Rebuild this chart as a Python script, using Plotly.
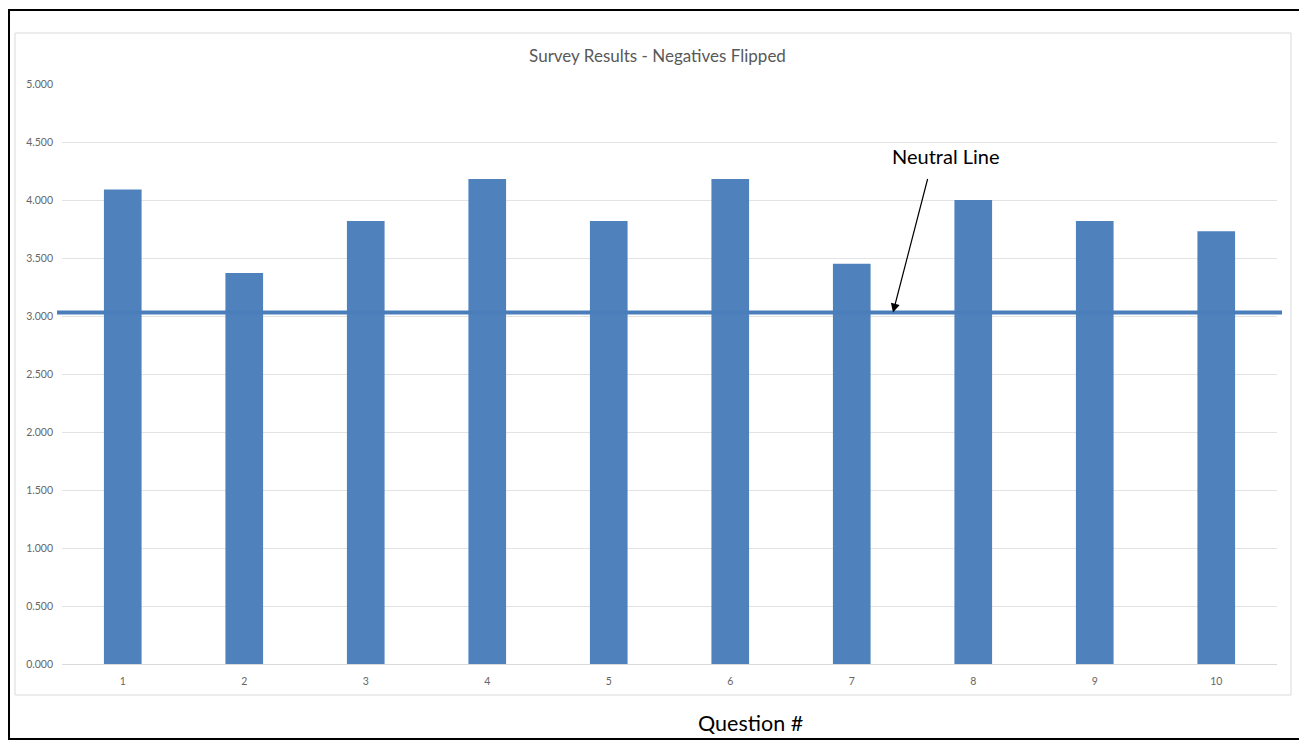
import plotly.graph_objects as go

questions = ["1", "2", "3", "4", "5", "6", "7", "8", "9", "10"]
scores = [4.09, 3.37, 3.82, 4.18, 3.82, 4.18, 3.45, 4.00, 3.82, 3.73]
neutral = 3.03
y_ticks = [0, 0.5, 1, 1.5, 2, 2.5, 3, 3.5, 4, 4.5, 5]

# page body has an 8px margin, so the figure is shifted by that much
OFF = 8
W, H = 1307 - OFF, 745 - OFF
L, R, T, B = 62 - OFF, 1277 - OFF, 84 - OFF, 664 - OFF


def px(x):
    return (x - OFF - L) / (R - L)


def py(y):
    return (B - (y - OFF)) / (B - T)


fig = go.Figure()
fig.add_trace(go.Bar(x=questions, y=scores, marker_color="#4f81bd",
                     marker_line_width=0, showlegend=False))

fig.update_layout(
    width=W, height=H,
    margin=dict(l=L, r=W - R, t=T, b=H - B),
    plot_bgcolor="white", paper_bgcolor="white",
    bargap=0.69,
    font=dict(family="Lato, Open Sans, sans-serif"),
    title=dict(text="Survey Results - Negatives Flipped", x=0.5, xanchor="center",
               y=(H - (56 - OFF)) / H, yanchor="middle", yref="container",
               font=dict(size=17, color="#595959")),
)
fig.update_yaxes(range=[0, 5], tickvals=y_ticks, tickformat=".3f",
                 showgrid=True, gridcolor="#e3e3e3", gridwidth=1,
                 zeroline=False, showline=False, ticks="",
                 tickfont=dict(size=10.5, color="#666666"), ticklabelstandoff=8)
fig.update_xaxes(showgrid=False, showline=True, linecolor="#d9d9d9", linewidth=1,
                 ticks="", tickfont=dict(size=10.5, color="#666666"),
                 ticklabelstandoff=7)

# outer black frame and inner chart box
fig.add_shape(type="rect", xref="paper", yref="paper",
              x0=px(9), x1=px(1303), y0=py(739), y1=py(10),
              line=dict(color="black", width=2), layer="above")
fig.add_shape(type="rect", xref="paper", yref="paper",
              x0=px(15), x1=px(1291), y0=py(695), y1=py(33),
              line=dict(color="#d9d9d9", width=1), layer="below")

# neutral line
fig.add_shape(type="line", xref="paper", yref="y",
              x0=px(57), x1=px(1282), y0=neutral, y1=neutral,
              line=dict(color="#4a7ebb", width=4), layer="above")

fig.add_annotation(x=px(893), y=neutral, xref="paper", yref="y",
                   ax=35, ay=-135, text="", showarrow=True,
                   arrowhead=2, arrowsize=1.5, arrowwidth=1.2, arrowcolor="black")
fig.add_annotation(x=px(946), y=py(156), xref="paper", yref="paper",
                   xanchor="center", yanchor="middle",
                   text="Neutral Line", showarrow=False,
                   font=dict(size=20, color="black"))
fig.add_annotation(x=px(750), y=py(723), xref="paper", yref="paper",
                   xanchor="center", yanchor="middle",
                   text="Question #", showarrow=False,
                   font=dict(size=21.5, color="black"))

fig.write_html("out.html")
